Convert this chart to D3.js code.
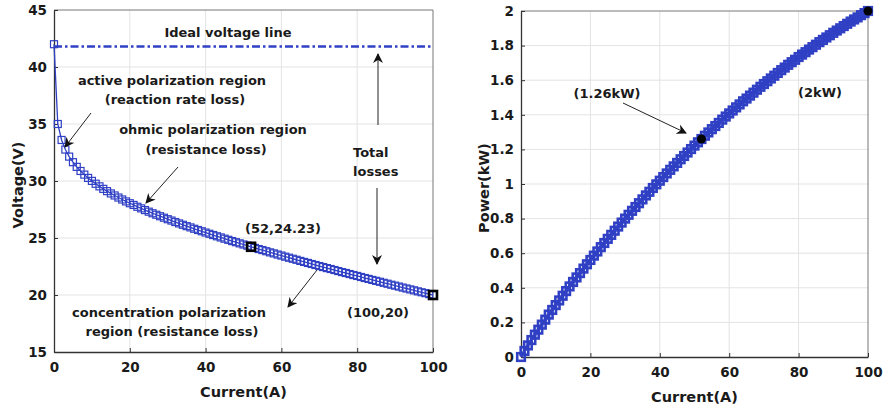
<!DOCTYPE html>
<html>
<head>
<meta charset="utf-8">
<script src="https://cdn.jsdelivr.net/npm/d3@7"></script>
<style>
  html, body { margin: 0; padding: 0; background: #fff; }
  svg { display: block; font-family: "DejaVu Sans", Arial, sans-serif; font-weight: bold; }
  .tick text { font-family: "DejaVu Sans", Arial, sans-serif; font-size: 13.5px; font-weight: bold; fill: #1a1a1a; }
  .ann { font-size: 13px; fill: #1a1a1a; }
</style>
</head>
<body>
<div id="chart"></div>
<script>
// Current (A), sampled every 1 A
const current = d3.range(0, 101);

// Stack voltage (V)
const voltage = [
  42.00, 35.00, 33.60, 32.76, 32.14, 31.65, 31.24, 30.88, 30.56, 30.27,
  30.01, 29.76, 29.53, 29.31, 29.11, 28.91, 28.73, 28.55, 28.38, 28.21,
  28.05, 27.90, 27.74, 27.60, 27.45, 27.31, 27.17, 27.04, 26.91, 26.78,
  26.65, 26.53, 26.40, 26.28, 26.16, 26.04, 25.93, 25.81, 25.70, 25.59,
  25.48, 25.37, 25.26, 25.15, 25.05, 24.94, 24.84, 24.73, 24.63, 24.53,
  24.43, 24.33, 24.23, 24.13, 24.03, 23.94, 23.84, 23.74, 23.65, 23.55,
  23.46, 23.36, 23.27, 23.18, 23.09, 22.99, 22.90, 22.81, 22.72, 22.63,
  22.54, 22.45, 22.36, 22.28, 22.19, 22.10, 22.01, 21.93, 21.84, 21.75,
  21.67, 21.58, 21.49, 21.41, 21.32, 21.24, 21.16, 21.07, 20.99, 20.90,
  20.82, 20.74, 20.65, 20.57, 20.49, 20.41, 20.32, 20.24, 20.16, 20.08,
  20.00
];

// Stack power (kW)
const power = [
  0.000, 0.035, 0.067, 0.098, 0.129, 0.158, 0.187, 0.216, 0.245, 0.272,
  0.300, 0.327, 0.354, 0.381, 0.408, 0.434, 0.460, 0.485, 0.511, 0.536,
  0.561, 0.586, 0.610, 0.635, 0.659, 0.683, 0.706, 0.730, 0.754, 0.777,
  0.800, 0.822, 0.845, 0.867, 0.889, 0.911, 0.934, 0.955, 0.977, 0.998,
  1.019, 1.040, 1.061, 1.082, 1.102, 1.122, 1.143, 1.162, 1.182, 1.202,
  1.222, 1.241, 1.260, 1.279, 1.298, 1.317, 1.335, 1.353, 1.372, 1.390,
  1.408, 1.425, 1.443, 1.460, 1.478, 1.494, 1.511, 1.528, 1.545, 1.562,
  1.578, 1.594, 1.610, 1.626, 1.642, 1.658, 1.673, 1.689, 1.704, 1.718,
  1.734, 1.748, 1.762, 1.777, 1.791, 1.805, 1.820, 1.833, 1.847, 1.860,
  1.874, 1.887, 1.900, 1.913, 1.926, 1.939, 1.951, 1.963, 1.976, 1.988,
  2.000
];

const idealVoltage = 41.8;
const markedPointsVI = [[52, 24.23], [100, 20]];
const markedPointsP = [[52, 1.26], [100, 2.0]];

const xTicks = [0, 20, 40, 60, 80, 100];
const vTicks = [15, 20, 25, 30, 35, 40, 45];
const pTicks = [0, 0.2, 0.4, 0.6, 0.8, 1, 1.2, 1.4, 1.6, 1.8, 2];

const BLUE = '#3040c4';
const W = 884, H = 408;

const svg = d3.select('#chart').append('svg')
    .attr('width', W)
    .attr('height', H);

// arrow head marker
svg.append('defs').append('marker')
    .attr('id', 'arrow')
    .attr('viewBox', '0 0 10 10')
    .attr('refX', 9).attr('refY', 5)
    .attr('markerWidth', 10).attr('markerHeight', 10)
    .attr('markerUnits', 'userSpaceOnUse')
    .attr('orient', 'auto')
    .append('path')
    .attr('d', 'M0,0 L10,5 L0,10 L3,5 Z')
    .attr('fill', '#111');

// draws the frame, grid and axes of one panel, returns scales + group
function panel(box, yDomain, yTicks, yLabel, yFormat, yTitleX) {
    const x = d3.scaleLinear().domain([0, 100]).range([box.left, box.right]);
    const y = d3.scaleLinear().domain(yDomain).range([box.bottom, box.top]);
    const g = svg.append('g');

    // grid
    g.append('g').selectAll('line').data(xTicks.slice(1, -1)).join('line')
        .attr('x1', d => x(d)).attr('x2', d => x(d))
        .attr('y1', box.top).attr('y2', box.bottom)
        .attr('stroke', '#e3e3e3').attr('stroke-width', 1);
    g.append('g').selectAll('line').data(yTicks.slice(1, -1)).join('line')
        .attr('x1', box.left).attr('x2', box.right)
        .attr('y1', d => y(d)).attr('y2', d => y(d))
        .attr('stroke', '#e3e3e3').attr('stroke-width', 1);

    // box (top/right lighter)
    g.append('line').attr('x1', box.left).attr('x2', box.right)
        .attr('y1', box.top).attr('y2', box.top).attr('stroke', '#777');
    g.append('line').attr('x1', box.right).attr('x2', box.right)
        .attr('y1', box.top).attr('y2', box.bottom).attr('stroke', '#777');

    // axes
    g.append('g')
        .attr('transform', `translate(0,${box.bottom})`)
        .call(d3.axisBottom(x).tickValues(xTicks).tickSizeInner(-4).tickSizeOuter(0).tickPadding(10))
        .call(a => a.select('.domain').attr('stroke', '#333').attr('stroke-width', 1.3))
        .call(a => a.selectAll('.tick line').attr('stroke', '#333'));
    g.append('g')
        .attr('transform', `translate(${box.left},0)`)
        .call(d3.axisLeft(y).tickValues(yTicks).tickFormat(yFormat).tickSizeInner(-4).tickSizeOuter(0).tickPadding(7))
        .call(a => a.select('.domain').attr('stroke', '#333').attr('stroke-width', 1.3))
        .call(a => a.selectAll('.tick line').attr('stroke', '#333'));

    // axis titles
    g.append('text')
        .attr('x', (box.left + box.right) / 2)
        .attr('y', box.bottom + 45)
        .attr('text-anchor', 'middle')
        .attr('font-size', 14.5)
        .attr('fill', '#1a1a1a')
        .text('Current(A)');
    g.append('text')
        .attr('transform', `translate(${yTitleX},${(box.top + box.bottom) / 2 + 4}) rotate(-90)`)
        .attr('text-anchor', 'middle')
        .attr('font-size', 14.5)
        .attr('fill', '#1a1a1a')
        .text(yLabel);

    return { x, y, g };
}

function arrow(g, x1, y1, x2, y2) {
    g.append('line')
        .attr('x1', x1).attr('y1', y1).attr('x2', x2).attr('y2', y2)
        .attr('stroke', '#222').attr('stroke-width', 1)
        .attr('marker-end', 'url(#arrow)');
}

function label(g, x, y, txt, anchor) {
    g.append('text').attr('class', 'ann')
        .attr('x', x).attr('y', y)
        .attr('text-anchor', anchor || 'middle')
        .text(txt);
}

// ---------- Left: polarization curve ----------
const L = panel({ left: 54, right: 433, top: 10, bottom: 352 },
    [15, 45], vTicks, 'Voltage(V)', d3.format('d'), 23);

const vi = current.map((c, i) => [c, voltage[i]]);

L.g.append('line')
    .attr('x1', L.x(0)).attr('x2', L.x(100))
    .attr('y1', L.y(idealVoltage)).attr('y2', L.y(idealVoltage))
    .attr('stroke', BLUE).attr('stroke-width', 2.6)
    .attr('stroke-dasharray', '8,3,2.5,3');

L.g.append('path')
    .datum(vi)
    .attr('fill', 'none')
    .attr('stroke', BLUE)
    .attr('stroke-width', 1.3)
    .attr('d', d3.line().x(d => L.x(d[0])).y(d => L.y(d[1])));

L.g.append('g').selectAll('rect').data(vi).join('rect')
    .attr('x', d => L.x(d[0]) - 3.5)
    .attr('y', d => L.y(d[1]) - 3.5)
    .attr('width', 7).attr('height', 7)
    .attr('fill', 'none')
    .attr('stroke', BLUE)
    .attr('stroke-width', 1.2);

L.g.append('g').selectAll('rect').data(markedPointsVI).join('rect')
    .attr('x', d => L.x(d[0]) - 4)
    .attr('y', d => L.y(d[1]) - 4)
    .attr('width', 8).attr('height', 8)
    .attr('fill', 'none')
    .attr('stroke', '#000')
    .attr('stroke-width', 2.6);

label(L.g, 228, 37, 'Ideal voltage line');
label(L.g, 172, 85, 'active polarization region');
label(L.g, 175, 104, '(reaction rate loss)');
arrow(L.g, 91, 113, 65, 147);
label(L.g, 213, 134, 'ohmic polarization region');
label(L.g, 206, 154, '(resistance loss)');
arrow(L.g, 178, 167, 146, 203);
label(L.g, 353, 157, 'Total', 'start');
label(L.g, 353, 176, 'losses', 'start');
arrow(L.g, 378, 125, 378, 54);
arrow(L.g, 377, 188, 377, 264);
label(L.g, 283, 233, '(52,24.23)');
label(L.g, 378, 317, '(100,20)');
label(L.g, 169, 317, 'concentration polarization');
label(L.g, 172, 336, 'region (resistance loss)');
arrow(L.g, 317, 270, 288, 307);

// ---------- Right: power curve ----------
const R = panel({ left: 521, right: 868, top: 11, bottom: 357 },
    [0, 2], pTicks, 'Power(kW)', d3.format('~g'), 489);

const pi = current.map((c, i) => [c, power[i]]);

R.g.append('path')
    .datum(pi)
    .attr('fill', 'none')
    .attr('stroke', BLUE)
    .attr('stroke-width', 3)
    .attr('d', d3.line().x(d => R.x(d[0])).y(d => R.y(d[1])));

R.g.append('g').selectAll('rect').data(pi).join('rect')
    .attr('x', d => R.x(d[0]) - 3.8)
    .attr('y', d => R.y(d[1]) - 3.8)
    .attr('width', 7.6).attr('height', 7.6)
    .attr('fill', 'none')
    .attr('stroke', BLUE)
    .attr('stroke-width', 2.6);

R.g.append('g').selectAll('circle').data(markedPointsP).join('circle')
    .attr('cx', d => R.x(d[0]))
    .attr('cy', d => R.y(d[1]))
    .attr('r', 4.5)
    .attr('fill', '#000');

label(R.g, 607, 98, '(1.26kW)');
arrow(R.g, 623, 103, 686, 133);
label(R.g, 820, 97, '(2kW)');
</script>
</body>
</html>
